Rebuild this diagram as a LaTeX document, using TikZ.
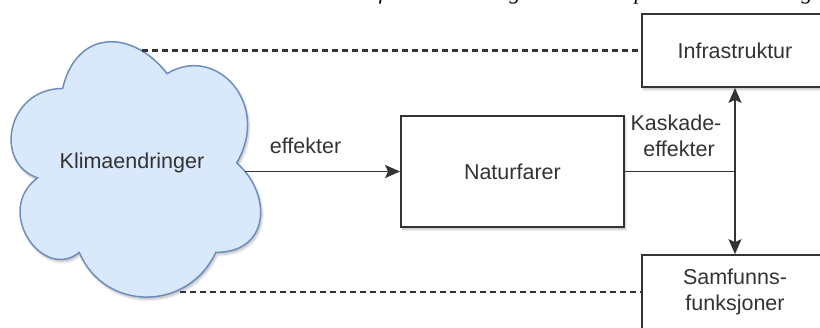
\documentclass[tikz,border=0pt]{standalone}
\usepackage{fontspec}
\setmainfont{Liberation Sans}
\newfontfamily\bodyserif{Liberation Serif}
\usetikzlibrary{arrows.meta,shadows.blur}

\definecolor{cloudfill}{HTML}{DAE8FC}
\definecolor{cloudline}{HTML}{6C8EBF}
\definecolor{ink}{HTML}{333333}

\tikzset{
  lbl/.style={text=ink, font=\fontsize{21.5}{26}\selectfont, align=center, inner sep=0pt},
  box/.style={draw=ink, line width=1.7pt, fill=white, lbl,
    blur shadow={shadow xshift=1.5pt, shadow yshift=-2.5pt, shadow blur steps=6, shadow opacity=25}},
  flow/.style={draw=ink, line width=1.7pt},
  tip/.style={-{Stealth[length=15pt,width=13pt,inset=3pt]}},
  link/.style={draw=ink, line width=2.2pt, dash pattern=on 6pt off 4pt},
  frag/.style={font=\bodyserif\itshape\fontsize{22}{26}\selectfont, anchor=base, inner sep=0pt}
}

\begin{document}
\begin{tikzpicture}[x=1pt,y=-1pt]
\useasboundingbox (0,0) rectangle (820,327);
\clip (0,0) rectangle (820,327);

% lower ends of the running text above the figure
\node[frag] (fr1) at (382,-0.5) {f};
\node[frag] (fr2) at (515,-0.5) {g};
\node[frag] (fr3) at (640,-0.5) {p};
\node[frag] (fr4) at (807,-0.5) {g};

% cloud
\path[fill=cloudfill, draw=cloudline, line width=1.5pt,
      blur shadow={shadow xshift=1.5pt, shadow yshift=-2.5pt, shadow blur steps=6, shadow opacity=25}]
  (62.6,88.5) .. controls (6.9,88.5) and (-7,163) .. (37.6,177.9)
  .. controls (-7,210.7) and (43.1,282.2) .. (79.3,252.4)
  .. controls (104.4,312) and (188,312) .. (215.8,252.4)
  .. controls (271.5,252.4) and (271.5,192.8) .. (236.7,163)
  .. controls (271.5,103.4) and (215.8,43.8) .. (167.1,73.6)
  .. controls (132.3,28.9) and (76.6,28.9) .. (62.6,88.5) -- cycle;
\node[lbl] (klima) at (132,163) {Klimaendringer};
\coordinate (cloudE) at (245,171.5);
\coordinate (cloudT) at (142,50.5);
\coordinate (cloudB) at (180,292);

% boxes
\node[box, minimum width=223pt, minimum height=111pt] (nat) at (512.4,171.5) {Naturfarer};
\node[box, minimum width=186pt, minimum height=73pt] (infra) at (735,50.5) {Infrastruktur};
\node[box, minimum width=186pt, minimum height=74pt] (samf) at (735,292) {Samfunns-\\funksjoner};

% connectors
\draw[flow, tip] (cloudE) -- node[lbl, above=17pt, xshift=-17pt] (eff) {effekter} (nat.west);
\coordinate (split) at (735,171.5);
\draw[flow] (nat.east) -- (split);
\draw[flow, tip] (split) -- (infra.south);
\draw[flow, tip] (split) -- (samf.north);
\node[lbl, anchor=base] (kask1) at (676,130.7) {Kaskade-};
\node[lbl, anchor=base] (kask2) at (679,156.7) {effekter};

\draw[link] (cloudT) -- (infra.west);
\draw[link] (cloudB) -- (samf.west);
\end{tikzpicture}
\end{document}
